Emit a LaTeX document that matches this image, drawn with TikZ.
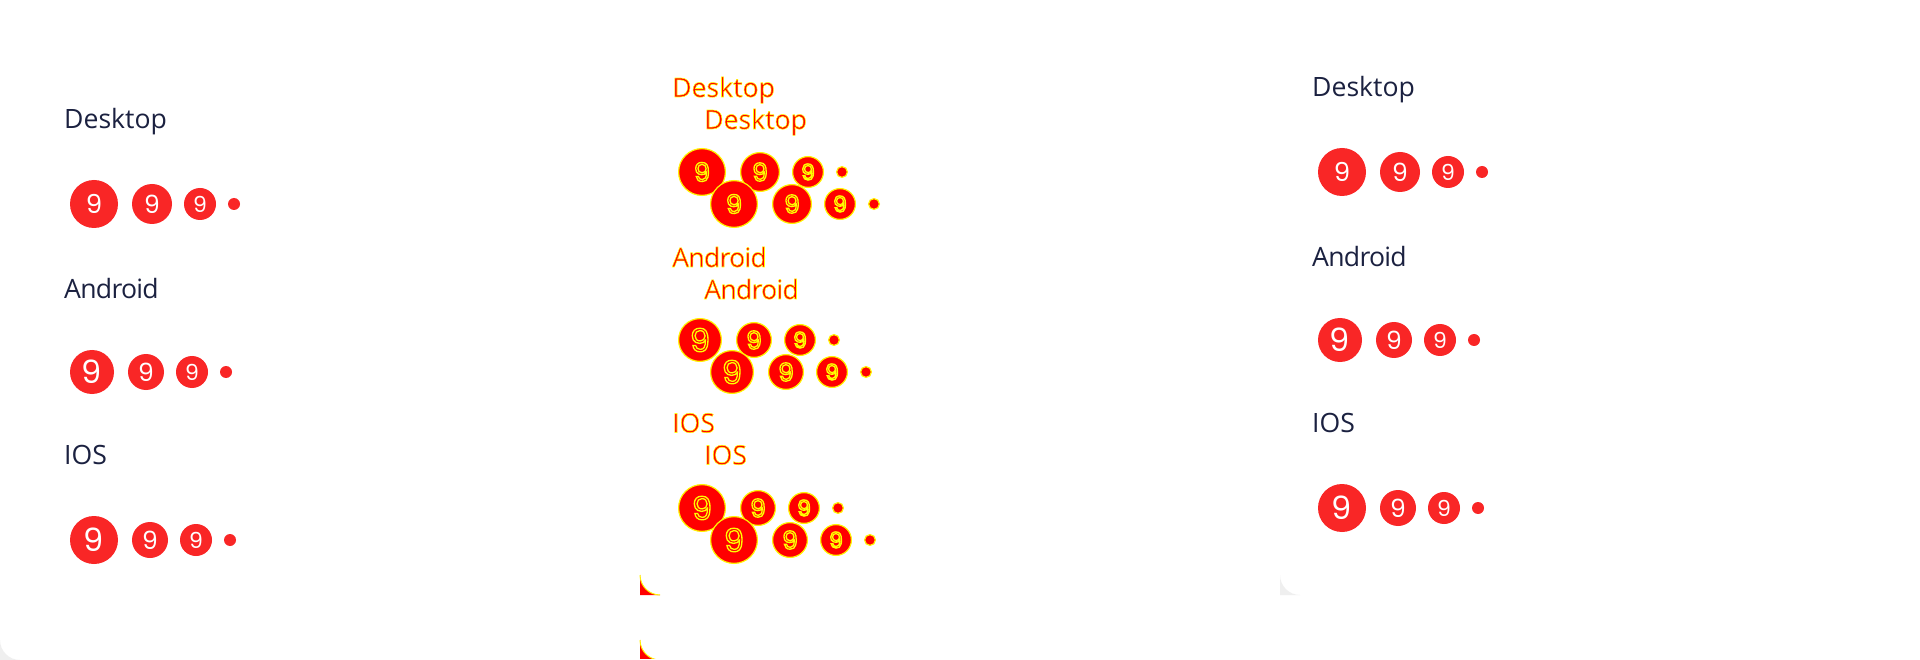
\documentclass[tikz,border=0pt]{standalone}
\usepackage{fontspec}
\setmainfont{Open Sans}
\newfontfamily\digitfont{Poppins}
\definecolor{badgered}{HTML}{F92626}
\definecolor{labelnavy}{HTML}{1B2140}
\definecolor{cornergrey}{HTML}{EFEFEF}
\newcommand{\hlon}[1]{\special{pdf:code q 2 Tr #1 w 1 1 0 RG 1 0 0 rg}}
\newcommand{\hloff}{\special{pdf:code Q}}
\tikzset{
  x=1pt,y=-1pt,
  labeltext/.style={anchor=base west,inner sep=0pt,text=labelnavy,font=\fontsize{26.6}{30}\selectfont},
  badge/.style={circle,inner sep=0pt,fill=badgered,text=white,minimum size=#1*2pt},
  hlbadge/.style={circle,inner sep=0pt,fill=red,draw=yellow,line width=1.2pt,minimum size=#1*2pt-1.2pt},
  dig/.style={font=\digitfont\fontsize{#1}{#1}\selectfont},
  hlcorner/.style={fill=red},
  hlarc/.style={draw=yellow,line width=1pt},
}
\newcommand{\rowset}[5]{%
  \node[#2] (#1dl) at (64,129) {#4{Desktop}};
  \node[#3=24,dig=26] (#1da) at (94,204) {#5{9}};
  \node[#3=20,dig=25] (#1db) at (152,204) {#5{9}};
  \node[#3=16,dig=22] (#1dc) at (200,204) {#5{9}};
  \node[#3=6] (#1dd) at (234,204) {};
  \node[#2] (#1al) at (64,299) {\addfontfeature{LetterSpace=-2.7}#4{Android}};
  \node[#3=22,dig=32] (#1aa) at (92,372) {#5{9}};
  \node[#3=18,dig=25] (#1ab) at (146,372) {#5{9}};
  \node[#3=16,dig=22] (#1ac) at (192,372) {#5{9}};
  \node[#3=6] (#1ad) at (226,372) {};
  \node[#2] (#1il) at (64,464.5) {#4{IOS}};
  \node[#3=24,dig=32] (#1ia) at (94,540) {#5{9}};
  \node[#3=18,dig=25] (#1ib) at (150,540) {#5{9}};
  \node[#3=16,dig=22] (#1ic) at (196,540) {#5{9}};
  \node[#3=6] (#1id) at (230,540) {};
}
\newcommand{\plainw}[1]{#1}
\newcommand{\hllabel}[1]{\hlon{0.55}#1\hloff}
\newcommand{\hldigit}[1]{\hlon{1.3}#1\hloff}
\begin{document}
\begin{tikzpicture}
\useasboundingbox (0,0) rectangle (1920,660);
\fill[white] (0,0) rectangle (1920,660);
% panel corners
\fill[cornergrey] (0,640) .. controls (0,651) and (9,660) .. (20,660) -- (0,660) -- cycle;
\fill[cornergrey] (1280,575) .. controls (1280,586) and (1289,595) .. (1300,595) -- (1280,595) -- cycle;
\begin{scope}
\clip (0,0) rectangle (1920,658);
\fill[hlcorner] (640,640) .. controls (640,651) and (649,660) .. (660,660) -- (640,660) -- cycle;
\draw[hlarc] (640,640) .. controls (640,651) and (649,660) .. (660,660);
\end{scope}
\fill[hlcorner] (640,575) .. controls (640,586) and (649,595) .. (660,595) -- (640,595) -- cycle;
\draw[hlarc] (640,575) .. controls (640,586) and (649,595) .. (660,595);
% left
\rowset{l}{labeltext}{badge}{\plainw}{\plainw}
% middle, back
\begin{scope}[shift={(608,-32)}]
\rowset{m}{labeltext}{hlbadge}{\hllabel}{\hldigit}
\end{scope}
\begin{scope}[shift={(640,0)}]
\rowset{n}{labeltext}{hlbadge}{\hllabel}{\hldigit}
\end{scope}
% right
\begin{scope}[shift={(1248,-32)}]
\rowset{r}{labeltext}{badge}{\plainw}{\plainw}
\end{scope}
\end{tikzpicture}
\end{document}
